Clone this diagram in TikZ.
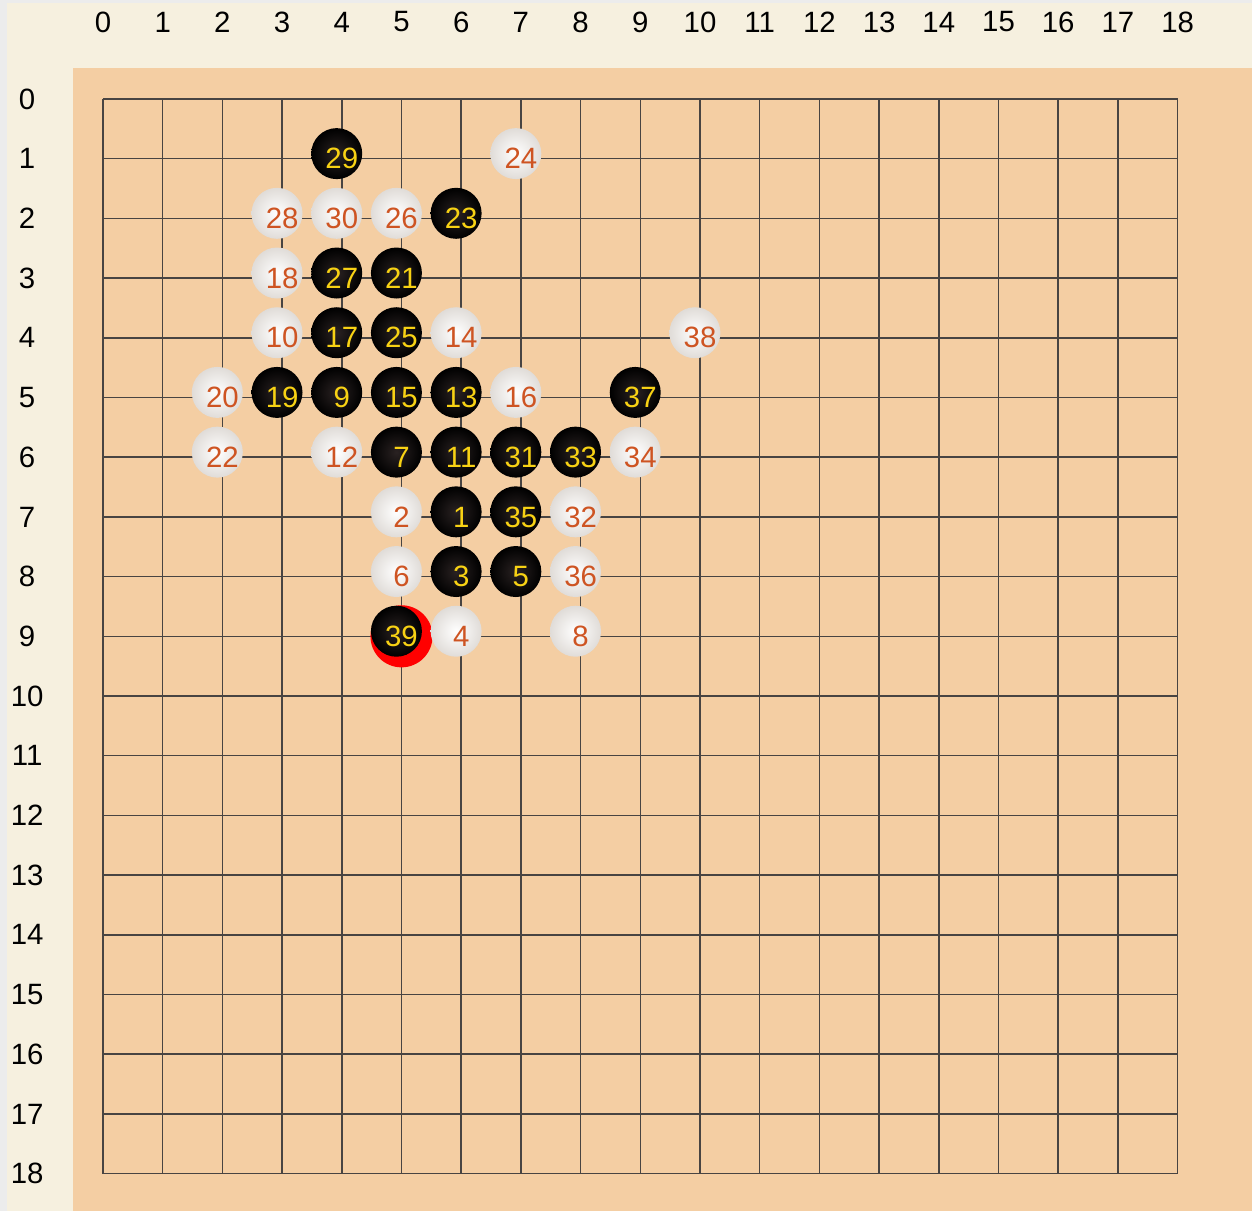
\documentclass[tikz,border=0pt]{standalone}
\usepackage{fontspec}
\setmainfont{Liberation Sans}
\usetikzlibrary{positioning}
\definecolor{boardTan}{RGB}{244,206,163}
\definecolor{frameCream}{RGB}{246,240,223}
\definecolor{edgeGray}{RGB}{236,236,236}
\definecolor{gridGray}{RGB}{72,68,66}
\definecolor{numYellow}{RGB}{248,210,20}
\definecolor{numOrange}{RGB}{206,84,34}
\definecolor{whiteEdge}{RGB}{224,220,216}
\definecolor{blackCore}{RGB}{42,34,34}

\begin{document}
\begin{tikzpicture}[
    gridline/.style={draw=gridGray, line width=0.7pt},
    coordlabel/.style={font=\fontsize{14}{16}\selectfont, text=black, inner sep=0pt},
    blackstone/.style={circle, minimum size=0.854cm, inner sep=0pt,
        inner color=blackCore, outer color=black},
    whitestone/.style={circle, minimum size=0.854cm, inner sep=0pt,
        inner color=white, outer color=whiteEdge},
    blacknum/.style={font=\fontsize{14}{16}\selectfont, text=numYellow, inner sep=0pt},
    whitenum/.style={font=\fontsize{14}{16}\selectfont, text=numOrange, inner sep=0pt},
    lastmove/.style={circle, minimum size=1.04cm, inner sep=0pt, fill=red}
]
    \useasboundingbox (-1.725,-18.626) rectangle (19.246,1.658);
    \fill[edgeGray] (-1.725,-18.626) rectangle (19.246,1.658);
    \fill[frameCream] (-1.608,-18.626) rectangle (19.246,1.608);
    \fill[boardTan] (-0.503,-18.626) rectangle (19.246,0.519);

    % board lines
    \draw[gridline] (0,0) grid (18,-18);

    % coordinates
    \foreach \i in {0,...,18} {
        \node[coordlabel] (col\i) at (\i,1.29) {\i};
        \node[coordlabel] (row\i) at (-1.27,-\i) {\i};
    }

    % last move marker
    \node[lastmove] (mark39) at (5,-9) {};

    % black stones
    \foreach \c/\r/\n in {4/1/29, 6/2/23, 4/3/27, 5/3/21, 4/4/17, 5/4/25,
        3/5/19, 4/5/9, 5/5/15, 6/5/13, 9/5/37, 5/6/7, 6/6/11, 7/6/31,
        8/6/33, 6/7/1, 7/7/35, 6/8/3, 7/8/5, 5/9/39} {
        \node[blackstone] (s\n) at (\c-0.085,-\r+0.085) {};
        \node[blacknum] (m\n) at (\c,-\r) {\n};
    }

    % white stones
    \foreach \c/\r/\n in {7/1/24, 3/2/28, 4/2/30, 5/2/26, 3/3/18, 3/4/10,
        6/4/14, 10/4/38, 2/5/20, 7/5/16, 2/6/22, 4/6/12, 9/6/34, 5/7/2,
        8/7/32, 5/8/6, 8/8/36, 6/9/4, 8/9/8} {
        \node[whitestone] (s\n) at (\c-0.085,-\r+0.085) {};
        \node[whitenum] (m\n) at (\c,-\r) {\n};
    }
\end{tikzpicture}
\end{document}
